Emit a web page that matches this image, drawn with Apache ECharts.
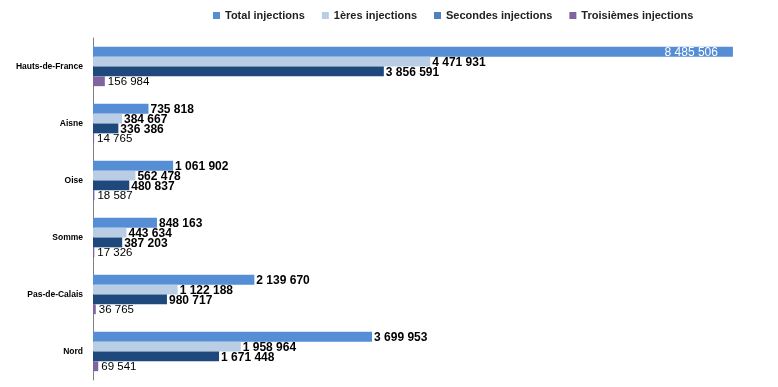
<!DOCTYPE html>
<html><head><meta charset="utf-8">
<script src="https://cdn.jsdelivr.net/npm/echarts@6/dist/echarts.min.js"></script>
<style>html,body{margin:0;padding:0;background:#fff}#c{width:778px;height:387px}</style>
</head><body><div id="c"></div>
<script>
const categories = ['Hauts-de-France','Aisne','Oise','Somme','Pas-de-Calais','Nord'];
const totalInj = [8485506, 735818, 1061902, 848163, 2139670, 3699953];
const premieres = [4471931, 384667, 562478, 443634, 1122188, 1958964];
const secondes = [3856591, 336386, 480837, 387203, 980717, 1671448];
const troisiemes = [156984, 14765, 18587, 17326, 36765, 69541];
const seriesNames = ['Total injections','1ères injections','Secondes injections','Troisièmes injections'];

const fmt = v => String(v).replace(/\B(?=(\d{3})+(?!\d))/g, ' ');
const FONT = '"Liberation Sans", Arial, sans-serif';
const colors = ['#558ED5','#B9CDE5','#1F497D','#8064A2'];
const bigLabel = {show:true, position:'right', distance:2, offset:[0,1], color:'#000', fontWeight:'bold', fontSize:12, fontFamily:FONT, formatter:p=>fmt(p.value)};

const chart = echarts.init(document.getElementById('c'));
chart.setOption({
  animation:false,
  textStyle:{fontFamily:FONT},
  legend:{
    top:5, left:208, itemWidth:7, itemHeight:7, itemGap:17, icon:'rect',
    textStyle:{fontSize:11, fontWeight:'bold', color:'#222', fontFamily:FONT},
    data:[
      {name:seriesNames[0], itemStyle:{color:'#558ED5'}},
      {name:seriesNames[1], itemStyle:{color:'#B9CDE5'}},
      {name:seriesNames[2], itemStyle:{color:'#4F81BD'}},
      {name:seriesNames[3], itemStyle:{color:'#8064A2'}}
    ]
  },
  grid:{left:93, right:44, top:38, bottom:7, containLabel:false},
  xAxis:{type:'value', min:0, max:8500000, show:false, splitLine:{show:false}},
  yAxis:{type:'category', data:categories, inverse:true,
    axisLine:{show:true, lineStyle:{color:'#808080', width:1}},
    axisTick:{show:false},
    axisLabel:{fontSize:8.5, fontWeight:'bold', color:'#000', margin:10, fontFamily:FONT}
  },
  series:[
    {name:seriesNames[0], type:'bar', data:totalInj.map((v,i)=> i===0 ? {value:v, label:{position:'insideRight', color:'#fff', fontWeight:'normal', fontSize:12, distance:15}} : v),
      itemStyle:{color:colors[0]}, barGap:'0%', barCategoryGap:'31%', label:bigLabel},
    {name:seriesNames[1], type:'bar', data:premieres, itemStyle:{color:colors[1]}, barGap:'0%', barCategoryGap:'31%', label:bigLabel},
    {name:seriesNames[2], type:'bar', data:secondes, itemStyle:{color:colors[2]}, barGap:'0%', barCategoryGap:'31%', label:bigLabel},
    {name:seriesNames[3], type:'bar', data:troisiemes, itemStyle:{color:colors[3]}, barGap:'0%', barCategoryGap:'31%',
      label:{show:true, position:'right', distance:3, offset:[0,1], color:'#000', fontSize:11.5, fontFamily:FONT, formatter:p=>fmt(p.value)}}
  ]
});
</script></body></html>
